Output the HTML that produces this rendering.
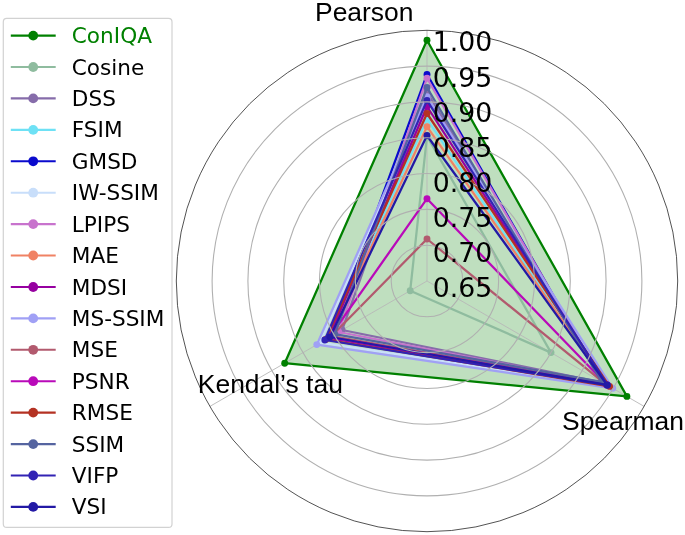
<!DOCTYPE html>
<html><head><meta charset="utf-8"><title>Radar</title>
<style>
html,body{margin:0;padding:0;background:#fff;}
svg{display:block;}
.leg{font-family:"DejaVu Sans","Liberation Sans",sans-serif;font-size:21.6px;}
.tick{font-family:"DejaVu Sans","Liberation Sans",sans-serif;font-size:26.2px;fill:#000;}
.ax{font-family:"Liberation Sans",Arial,sans-serif;font-size:26.45px;fill:#000;}
</style></head><body>
<svg width="685" height="535" viewBox="0 0 685 535">
<rect width="685" height="535" fill="#fff"/>
<polygon points="427.0,40.2 284.7,363.2 626.9,396.4" fill="#008000" fill-opacity="0.25" stroke="none"/>
<g fill="none" stroke="#b8b8b8" stroke-width="0.9">
<line x1="427.0" y1="281.0" x2="427.0" y2="30.3"/>
<line x1="427.0" y1="281.0" x2="209.9" y2="406.4"/>
<line x1="427.0" y1="281.0" x2="644.1" y2="406.4"/>
</g>
<g fill="#008000" stroke="#008000"><polygon points="427.0,40.2 284.7,363.2 626.9,396.4" fill="none" stroke-width="2.25" stroke-linejoin="round"/><circle cx="427.0" cy="40.2" r="3.45" stroke="none"/><circle cx="284.7" cy="363.2" r="3.45" stroke="none"/><circle cx="626.9" cy="396.4" r="3.45" stroke="none"/></g>
<g fill="#8fbc9f" stroke="#8fbc9f"><polygon points="427.0,136.1 410.2,290.7 551.0,352.6" fill="none" stroke-width="2.25" stroke-linejoin="round"/><circle cx="427.0" cy="136.1" r="3.45" stroke="none"/><circle cx="410.2" cy="290.7" r="3.45" stroke="none"/><circle cx="551.0" cy="352.6" r="3.45" stroke="none"/></g>
<g fill="#866caa" stroke="#866caa"><polygon points="427.0,92.1 342.1,330.0 602.7,382.5" fill="none" stroke-width="2.25" stroke-linejoin="round"/><circle cx="427.0" cy="92.1" r="3.45" stroke="none"/><circle cx="342.1" cy="330.0" r="3.45" stroke="none"/><circle cx="602.7" cy="382.5" r="3.45" stroke="none"/></g>
<g fill="#6ee1f5" stroke="#6ee1f5"><polygon points="427.0,119.1 327.8,338.2 605.8,384.3" fill="none" stroke-width="2.25" stroke-linejoin="round"/><circle cx="427.0" cy="119.1" r="3.45" stroke="none"/><circle cx="327.8" cy="338.2" r="3.45" stroke="none"/><circle cx="605.8" cy="384.3" r="3.45" stroke="none"/></g>
<g fill="#0a0acd" stroke="#0a0acd"><polygon points="427.0,74.4 330.4,336.8 603.2,382.8" fill="none" stroke-width="2.25" stroke-linejoin="round"/><circle cx="427.0" cy="74.4" r="3.45" stroke="none"/><circle cx="330.4" cy="336.8" r="3.45" stroke="none"/><circle cx="603.2" cy="382.8" r="3.45" stroke="none"/></g>
<g fill="#c8defa" stroke="#c8defa"><polygon points="427.0,99.1 320.1,342.7 609.6,386.5" fill="none" stroke-width="2.25" stroke-linejoin="round"/><circle cx="427.0" cy="99.1" r="3.45" stroke="none"/><circle cx="320.1" cy="342.7" r="3.45" stroke="none"/><circle cx="609.6" cy="386.5" r="3.45" stroke="none"/></g>
<g fill="#c873cd" stroke="#c873cd"><polygon points="427.0,78.2 338.7,332.0 604.4,383.5" fill="none" stroke-width="2.25" stroke-linejoin="round"/><circle cx="427.0" cy="78.2" r="3.45" stroke="none"/><circle cx="338.7" cy="332.0" r="3.45" stroke="none"/><circle cx="604.4" cy="383.5" r="3.45" stroke="none"/></g>
<g fill="#f08264" stroke="#f08264"><polygon points="427.0,126.6 329.6,337.2 607.6,385.3" fill="none" stroke-width="2.25" stroke-linejoin="round"/><circle cx="427.0" cy="126.6" r="3.45" stroke="none"/><circle cx="329.6" cy="337.2" r="3.45" stroke="none"/><circle cx="607.6" cy="385.3" r="3.45" stroke="none"/></g>
<g fill="#9600a0" stroke="#9600a0"><polygon points="427.0,106.5 328.7,337.8 607.1,385.0" fill="none" stroke-width="2.25" stroke-linejoin="round"/><circle cx="427.0" cy="106.5" r="3.45" stroke="none"/><circle cx="328.7" cy="337.8" r="3.45" stroke="none"/><circle cx="607.1" cy="385.0" r="3.45" stroke="none"/></g>
<g fill="#a0a0f5" stroke="#a0a0f5"><polygon points="427.0,96.8 316.8,344.6 612.8,388.3" fill="none" stroke-width="2.25" stroke-linejoin="round"/><circle cx="427.0" cy="96.8" r="3.45" stroke="none"/><circle cx="316.8" cy="344.6" r="3.45" stroke="none"/><circle cx="612.8" cy="388.3" r="3.45" stroke="none"/></g>
<g fill="#b25a6e" stroke="#b25a6e"><polygon points="427.0,239.0 331.3,336.2 605.8,384.3" fill="none" stroke-width="2.25" stroke-linejoin="round"/><circle cx="427.0" cy="239.0" r="3.45" stroke="none"/><circle cx="331.3" cy="336.2" r="3.45" stroke="none"/><circle cx="605.8" cy="384.3" r="3.45" stroke="none"/></g>
<g fill="#b90ab9" stroke="#b90ab9"><polygon points="427.0,198.7 329.6,337.2 606.7,384.8" fill="none" stroke-width="2.25" stroke-linejoin="round"/><circle cx="427.0" cy="198.7" r="3.45" stroke="none"/><circle cx="329.6" cy="337.2" r="3.45" stroke="none"/><circle cx="606.7" cy="384.8" r="3.45" stroke="none"/></g>
<g fill="#b43223" stroke="#b43223"><polygon points="427.0,113.5 325.7,339.5 609.6,386.4" fill="none" stroke-width="2.25" stroke-linejoin="round"/><circle cx="427.0" cy="113.5" r="3.45" stroke="none"/><circle cx="325.7" cy="339.5" r="3.45" stroke="none"/><circle cx="609.6" cy="386.4" r="3.45" stroke="none"/></g>
<g fill="#5564a0" stroke="#5564a0"><polygon points="427.0,87.5 334.8,334.2 601.5,381.8" fill="none" stroke-width="2.25" stroke-linejoin="round"/><circle cx="427.0" cy="87.5" r="3.45" stroke="none"/><circle cx="334.8" cy="334.2" r="3.45" stroke="none"/><circle cx="601.5" cy="381.8" r="3.45" stroke="none"/></g>
<g fill="#3223b4" stroke="#3223b4"><polygon points="427.0,100.4 324.8,340.0 607.5,385.2" fill="none" stroke-width="2.25" stroke-linejoin="round"/><circle cx="427.0" cy="100.4" r="3.45" stroke="none"/><circle cx="324.8" cy="340.0" r="3.45" stroke="none"/><circle cx="607.5" cy="385.2" r="3.45" stroke="none"/></g>
<g fill="#2319a5" stroke="#2319a5"><polygon points="427.0,135.5 330.0,337.0 607.0,384.9" fill="none" stroke-width="2.25" stroke-linejoin="round"/><circle cx="427.0" cy="135.5" r="3.45" stroke="none"/><circle cx="330.0" cy="337.0" r="3.45" stroke="none"/><circle cx="607.0" cy="384.9" r="3.45" stroke="none"/></g>
<g fill="none" stroke="#b0b0b0" stroke-width="1.1">
<circle cx="427.0" cy="281.0" r="35.8"/>
<circle cx="427.0" cy="281.0" r="71.6"/>
<circle cx="427.0" cy="281.0" r="107.5"/>
<circle cx="427.0" cy="281.0" r="143.3"/>
<circle cx="427.0" cy="281.0" r="179.1"/>
<circle cx="427.0" cy="281.0" r="214.9"/>
</g>
<circle cx="427.0" cy="281.0" r="250.7" fill="none" stroke="#1a1a1a" stroke-width="0.75"/>
<text class="tick" transform="translate(432.7,297.2) scale(1.02,0.985)">0.65</text>
<text class="tick" transform="translate(432.7,261.9) scale(1.02,0.985)">0.70</text>
<text class="tick" transform="translate(432.7,226.9) scale(1.02,0.985)">0.75</text>
<text class="tick" transform="translate(432.7,191.9) scale(1.02,0.985)">0.80</text>
<text class="tick" transform="translate(432.7,157.1) scale(1.02,0.985)">0.85</text>
<text class="tick" transform="translate(432.7,121.8) scale(1.02,0.985)">0.90</text>
<text class="tick" transform="translate(432.7,86.7) scale(1.02,0.985)">0.95</text>
<text class="tick" transform="translate(432.7,51.3) scale(1.02,0.985)">1.00</text>
<text class="ax" x="315" y="20.7">Pearson</text>
<text class="ax" x="197.8" y="392.5">Kendal’s tau</text>
<text class="ax" x="562" y="430.2">Spearman</text>
<rect x="3.3" y="18.4" width="168.7" height="509" rx="3.5" ry="3.5" fill="#fff" fill-opacity="0.8" stroke="#d2d2d2" stroke-width="1.2"/>
<g><line x1="10.8" y1="35.6" x2="55.7" y2="35.6" stroke="#008000" stroke-width="2.1"/><circle cx="33.2" cy="35.6" r="4.9" fill="#008000"/><text class="leg" x="71.8" y="43.1" fill="#008000">ConIQA</text></g>
<g><line x1="10.8" y1="67.0" x2="55.7" y2="67.0" stroke="#8fbc9f" stroke-width="2.1"/><circle cx="33.2" cy="67.0" r="4.9" fill="#8fbc9f"/><text class="leg" x="71.8" y="74.5" fill="#000">Cosine</text></g>
<g><line x1="10.8" y1="98.4" x2="55.7" y2="98.4" stroke="#866caa" stroke-width="2.1"/><circle cx="33.2" cy="98.4" r="4.9" fill="#866caa"/><text class="leg" x="71.8" y="105.9" fill="#000">DSS</text></g>
<g><line x1="10.8" y1="129.9" x2="55.7" y2="129.9" stroke="#6ee1f5" stroke-width="2.1"/><circle cx="33.2" cy="129.9" r="4.9" fill="#6ee1f5"/><text class="leg" x="71.8" y="137.4" fill="#000">FSIM</text></g>
<g><line x1="10.8" y1="161.3" x2="55.7" y2="161.3" stroke="#0a0acd" stroke-width="2.1"/><circle cx="33.2" cy="161.3" r="4.9" fill="#0a0acd"/><text class="leg" x="71.8" y="168.8" fill="#000">GMSD</text></g>
<g><line x1="10.8" y1="192.7" x2="55.7" y2="192.7" stroke="#c8defa" stroke-width="2.1"/><circle cx="33.2" cy="192.7" r="4.9" fill="#c8defa"/><text class="leg" x="71.8" y="200.2" fill="#000">IW-SSIM</text></g>
<g><line x1="10.8" y1="224.1" x2="55.7" y2="224.1" stroke="#c873cd" stroke-width="2.1"/><circle cx="33.2" cy="224.1" r="4.9" fill="#c873cd"/><text class="leg" x="71.8" y="231.6" fill="#000">LPIPS</text></g>
<g><line x1="10.8" y1="255.5" x2="55.7" y2="255.5" stroke="#f08264" stroke-width="2.1"/><circle cx="33.2" cy="255.5" r="4.9" fill="#f08264"/><text class="leg" x="71.8" y="263.0" fill="#000">MAE</text></g>
<g><line x1="10.8" y1="287.0" x2="55.7" y2="287.0" stroke="#9600a0" stroke-width="2.1"/><circle cx="33.2" cy="287.0" r="4.9" fill="#9600a0"/><text class="leg" x="71.8" y="294.5" fill="#000">MDSI</text></g>
<g><line x1="10.8" y1="318.4" x2="55.7" y2="318.4" stroke="#a0a0f5" stroke-width="2.1"/><circle cx="33.2" cy="318.4" r="4.9" fill="#a0a0f5"/><text class="leg" x="71.8" y="325.9" fill="#000">MS-SSIM</text></g>
<g><line x1="10.8" y1="349.8" x2="55.7" y2="349.8" stroke="#b25a6e" stroke-width="2.1"/><circle cx="33.2" cy="349.8" r="4.9" fill="#b25a6e"/><text class="leg" x="71.8" y="357.3" fill="#000">MSE</text></g>
<g><line x1="10.8" y1="381.2" x2="55.7" y2="381.2" stroke="#b90ab9" stroke-width="2.1"/><circle cx="33.2" cy="381.2" r="4.9" fill="#b90ab9"/><text class="leg" x="71.8" y="388.7" fill="#000">PSNR</text></g>
<g><line x1="10.8" y1="412.6" x2="55.7" y2="412.6" stroke="#b43223" stroke-width="2.1"/><circle cx="33.2" cy="412.6" r="4.9" fill="#b43223"/><text class="leg" x="71.8" y="420.1" fill="#000">RMSE</text></g>
<g><line x1="10.8" y1="444.1" x2="55.7" y2="444.1" stroke="#5564a0" stroke-width="2.1"/><circle cx="33.2" cy="444.1" r="4.9" fill="#5564a0"/><text class="leg" x="71.8" y="451.6" fill="#000">SSIM</text></g>
<g><line x1="10.8" y1="475.5" x2="55.7" y2="475.5" stroke="#3223b4" stroke-width="2.1"/><circle cx="33.2" cy="475.5" r="4.9" fill="#3223b4"/><text class="leg" x="71.8" y="483.0" fill="#000">VIFP</text></g>
<g><line x1="10.8" y1="506.9" x2="55.7" y2="506.9" stroke="#2319a5" stroke-width="2.1"/><circle cx="33.2" cy="506.9" r="4.9" fill="#2319a5"/><text class="leg" x="71.8" y="514.4" fill="#000">VSI</text></g>
</svg>
</body></html>
